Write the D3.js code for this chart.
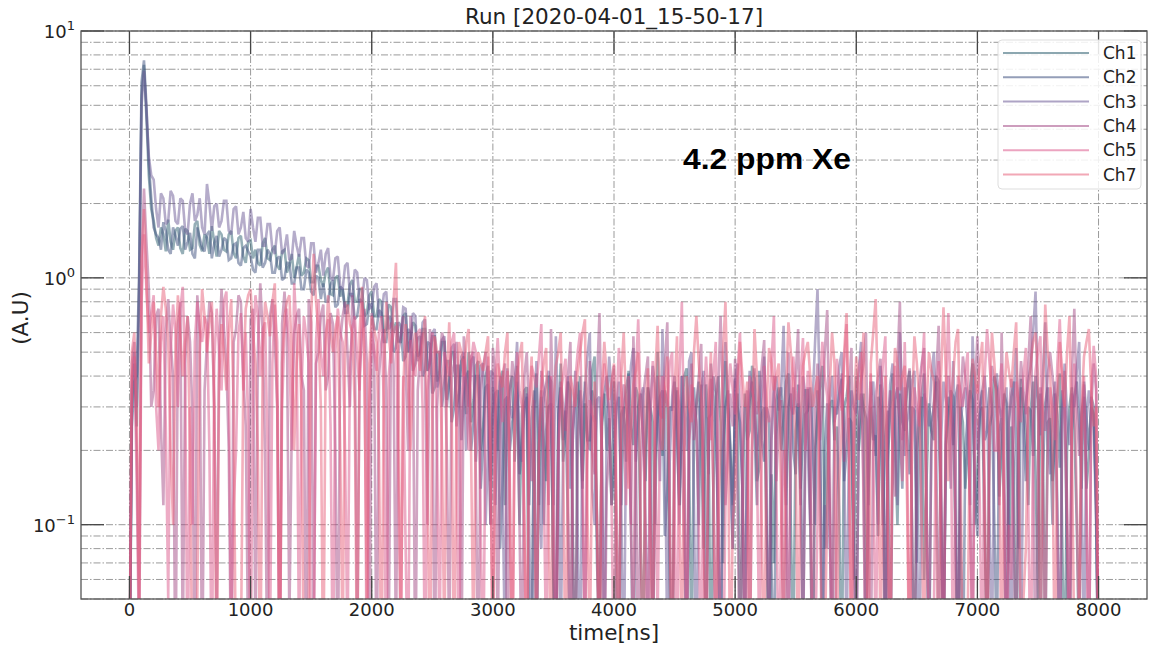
<!DOCTYPE html>
<html>
<head>
<meta charset="utf-8">
<script src="https://cdn.jsdelivr.net/npm/d3@7"></script>
<style>
  body { margin: 0; background: #fff; }
  text { font-family: "DejaVu Sans", sans-serif; fill: #222; }
</style>
</head>
<body>
<div id="plotSect"></div>
<script>
// Chart data (one value every 20 ns, 0..8000 ns) //

let channels = ["Ch1", "Ch2", "Ch3", "Ch4", "Ch5", "Ch7"];
let xTicks = [0, 1000, 2000, 3000, 4000, 5000, 6000, 7000, 8000];
let yMajor = [0.1, 1, 10];
let sampleStep = 20;

let ch1 = [
  0.02, 0.3, 0.45, 0.25, 0.9, 5.5, 7.3, 4.5, 2.6, 1.9,
  1.7, 1.45, 1.35, 1.6, 1.5, 1.28, 1.72, 1.4, 1.3, 1.55,
  1.6, 1.32, 1.25, 1.58, 1.55, 1.3, 1.32, 1.65, 1.7, 1.36,
  1.28, 1.5, 1.45, 1.25, 1.62, 1.4, 1.22, 1.55, 1.5, 1.3,
  1.28, 1.5, 1.55, 1.26, 1.2, 1.45, 1.48, 1.22, 1.15, 1.4,
  1.42, 1.2, 1.3, 1.15, 1.12, 1.38, 1.45, 1.2, 1.18, 1.3,
  1.35, 1.12, 1.08, 1.28, 1.3, 1.05, 1.12, 1.25, 1.0, 1.1,
  1.25, 1.02, 1.05, 1.2, 1.18, 0.96, 0.96, 1.12, 1.12, 0.98,
  0.92, 1.05, 1.1, 0.86, 0.85, 1.0, 1.02, 0.84, 0.9, 0.76,
  0.78, 0.94, 0.98, 0.8, 0.8, 0.9, 0.9, 0.7, 0.72, 0.85,
  0.88, 0.7, 0.7, 0.82, 0.8, 0.6, 0.62, 0.78, 0.76, 0.6,
  0.66, 0.55, 0.55, 0.7, 0.72, 0.5, 0.56, 0.66, 0.64, 0.48,
  0.5, 0.62, 0.62, 0.42, 0.45, 0.58, 0.58, 0.38, 0.42, 0.55,
  0.55, 0.32, 0.38, 0.5, 0.5, 0.3, 0.34, 0.46, 0.48, 0.28,
  0.5, 0.26, 0.32, 0.44, 0.46, 0.2, 0.25, 0.4, 0.44, 0.15,
  0.36, 0.3, 0.2, 0.38, 0.42, 0.12, 0.3, 0.36, 0.4, 0.18,
  0.44, 0.1, 0.28, 0.35, 0.36, 0.02, 0.03, 0.3, 0.41, 0.12,
  0.33, 0.22, 0.15, 0.4, 0.38, 0.05, 0.02, 0.25, 0.45, 0.18,
  0.24, 0.38, 0.35, 0.08, 0.02, 0.3, 0.4, 0.15, 0.31, 0.22,
  0.22, 0.42, 0.48, 0.1, 0.03, 0.26, 0.34, 0.2, 0.27, 0.12,
  0.38, 0.05, 0.02, 0.28, 0.3, 0.18, 0.42, 0.25, 0.21, 0.36,
  0.33, 0.08, 0.03, 0.2, 0.36, 0.3, 0.26, 0.1, 0.5, 0.22,
  0.19, 0.35, 0.31, 0.06, 0.02, 0.24, 0.35, 0.12, 0.28, 0.4,
  0.43, 0.18, 0.03, 0.22, 0.3, 0.38, 0.22, 0.08, 0.37, 0.26,
  0.02, 0.14, 0.33, 0.4, 0.26, 0.07, 0.46, 0.3, 0.2, 0.12,
  0.29, 0.34, 0.03, 0.1, 0.34, 0.22, 0.24, 0.44, 0.39, 0.15,
  0.17, 0.28, 0.3, 0.09, 0.02, 0.16, 0.07, 0.32, 0.36, 0.2,
  0.27, 0.38, 0.41, 0.1, 0.03, 0.24, 0.31, 0.14, 0.23, 0.35,
  0.35, 0.12, 0.02, 0.2, 0.28, 0.36, 0.44, 0.08, 0.19, 0.3,
  0.32, 0.22, 0.25, 0.11, 0.02, 0.3, 0.33, 0.4, 0.21, 0.06,
  0.4, 0.2, 0.26, 0.34, 0.03, 0.14, 0.3, 0.22, 0.23, 0.09,
  0.37, 0.28, 0.02, 0.18, 0.29, 0.41, 0.2, 0.1, 0.34, 0.26,
  0.24, 0.36, 0.42, 0.1, 0.02, 0.2, 0.28, 0.33, 0.06, 0.15,
  0.31, 0.24, 0.22, 0.4, 0.38, 0.12, 0.03, 0.21, 0.27, 0.35,
  0.33, 0.08, 0.02, 0.3, 0.26, 0.14, 0.21, 0.36, 0.45, 0.1,
  0.17, 0.28, 0.3, 0.09, 0.03, 0.25, 0.28, 0.4, 0.36, 0.13,
  0.2, 0.34, 0.31, 0.07, 0.25, 0.18, 0.02, 0.22, 0.39, 0.3,
  0.23, 0.12, 0.29, 0.38, 0.16, 0.05, 0.34, 0.21, 0.03, 0.26,
  0.27, 0.15, 0.22, 0.33, 0.41, 0.09, 0.02, 0.2, 0.3, 0.36,
  0.25, 0.1, 0.03, 0.28, 0.33, 0.14, 0.19, 0.3, 0.28, 0.12,
  0.02
];

let ch2 = [
  0.02, 0.25, 0.38, 0.4, 1.05, 6.2, 7.6, 5.0, 2.9, 2.1,
  1.6, 1.5, 1.45, 1.3, 1.68, 1.55, 1.3, 1.25, 1.6, 1.48,
  1.35, 1.58, 1.62, 1.3, 1.4, 1.52, 1.25, 1.2, 1.6, 1.45,
  1.32, 1.28, 1.5, 1.55, 1.2, 1.38, 1.48, 1.22, 1.3, 1.45,
  1.42, 1.18, 1.2, 1.36, 1.38, 1.15, 1.12, 1.32, 1.35, 1.28,
  1.22, 1.08, 1.05, 1.3, 1.3, 1.1, 1.15, 1.3, 1.25, 1.05,
  1.05, 1.2, 1.22, 0.98, 1.0, 1.15, 1.15, 0.95, 0.95, 1.1,
  1.1, 0.9, 0.9, 1.08, 1.05, 0.88, 0.85, 1.02, 1.0, 0.82,
  0.95, 0.8, 0.8, 0.94, 0.98, 0.76, 0.78, 0.92, 0.9, 0.72,
  0.72, 0.86, 0.86, 0.68, 0.7, 0.82, 0.8, 0.64, 0.65, 0.78,
  0.78, 0.62, 0.62, 0.74, 0.72, 0.55, 0.55, 0.7, 0.68, 0.5,
  0.52, 0.66, 0.64, 0.46, 0.48, 0.62, 0.6, 0.42, 0.45, 0.57,
  0.58, 0.4, 0.42, 0.55, 0.54, 0.34, 0.36, 0.5, 0.5, 0.3,
  0.38, 0.46, 0.46, 0.26, 0.3, 0.44, 0.44, 0.22, 0.33, 0.4,
  0.42, 0.2, 0.26, 0.4, 0.4, 0.14, 0.22, 0.36, 0.37, 0.1,
  0.28, 0.34, 0.35, 0.08, 0.15, 0.32, 0.33, 0.2, 0.26, 0.3,
  0.38, 0.16, 0.22, 0.3, 0.33, 0.12, 0.27, 0.35, 0.02, 0.2,
  0.35, 0.1, 0.24, 0.3, 0.31, 0.06, 0.03, 0.28, 0.36, 0.22,
  0.29, 0.1, 0.02, 0.24, 0.32, 0.38, 0.25, 0.14, 0.38, 0.22,
  0.2, 0.35, 0.3, 0.07, 0.03, 0.25, 0.34, 0.4, 0.26, 0.12,
  0.17, 0.3, 0.33, 0.12, 0.28, 0.36, 0.41, 0.1, 0.02, 0.2,
  0.3, 0.34, 0.23, 0.15, 0.36, 0.28, 0.03, 0.18, 0.27, 0.33,
  0.35, 0.09, 0.14, 0.3, 0.29, 0.38, 0.22, 0.12, 0.4, 0.16,
  0.02, 0.22, 0.31, 0.36, 0.25, 0.1, 0.37, 0.2, 0.03, 0.27,
  0.28, 0.4, 0.34, 0.1, 0.02, 0.2, 0.3, 0.35, 0.21, 0.08,
  0.39, 0.3, 0.26, 0.14, 0.03, 0.25, 0.32, 0.38, 0.24, 0.12,
  0.42, 0.22, 0.18, 0.3, 0.27, 0.07, 0.02, 0.23, 0.33, 0.36,
  0.24, 0.12, 0.3, 0.34, 0.2, 0.16, 0.37, 0.22, 0.03, 0.28,
  0.29, 0.36, 0.22, 0.1, 0.35, 0.26, 0.03, 0.2, 0.31, 0.12,
  0.02, 0.3, 0.28, 0.34, 0.39, 0.15, 0.2, 0.27, 0.26, 0.08,
  0.03, 0.22, 0.34, 0.3, 0.27, 0.12, 0.38, 0.24, 0.19, 0.33,
  0.3, 0.1, 0.23, 0.29, 0.02, 0.18, 0.32, 0.36, 0.25, 0.14,
  0.36, 0.24, 0.16, 0.3, 0.29, 0.07, 0.22, 0.34, 0.41, 0.12,
  0.02, 0.26, 0.3, 0.38, 0.26, 0.1, 0.03, 0.22, 0.33, 0.28,
  0.21, 0.33, 0.37, 0.11, 0.02, 0.2, 0.28, 0.35, 0.32, 0.15,
  0.09, 0.3, 0.35, 0.22, 0.24, 0.36, 0.3, 0.1, 0.03, 0.24,
  0.27, 0.12, 0.02, 0.26, 0.33, 0.38, 0.22, 0.08, 0.36, 0.25,
  0.15, 0.3, 0.29, 0.19, 0.4, 0.32, 0.03, 0.16, 0.31, 0.36,
  0.24, 0.1, 0.34, 0.28, 0.17, 0.35, 0.29, 0.08, 0.02, 0.24,
  0.33, 0.38, 0.26, 0.14, 0.38, 0.27, 0.2, 0.33, 0.3, 0.12,
  0.02
];

let ch3 = [
  0.02, 0.35, 0.5, 0.3, 0.85, 5.0, 6.9, 4.8, 3.1, 2.6,
  2.5, 1.9, 1.6, 2.2, 2.1, 1.65, 1.7, 2.25, 2.15, 1.7,
  1.65, 2.1, 2.05, 1.55, 1.5, 2.0, 2.2, 1.7, 1.8, 2.1,
  1.6, 1.5, 2.4, 2.0, 1.55, 1.95, 2.0, 1.6, 1.7, 2.05,
  2.05, 1.55, 1.5, 1.9, 1.95, 1.5, 1.6, 1.85, 1.45, 1.4,
  1.9, 1.6, 1.4, 1.75, 1.75, 1.35, 1.35, 1.65, 1.65, 1.3,
  1.25, 1.55, 1.6, 1.25, 1.3, 1.5, 1.18, 1.2, 1.55, 1.35,
  1.22, 1.45, 1.45, 1.12, 1.1, 1.38, 1.38, 1.05, 1.15, 1.3,
  1.02, 1.25, 1.32, 1.0, 0.98, 1.2, 1.22, 0.92, 0.9, 1.12,
  1.15, 0.86, 0.84, 1.08, 1.05, 0.8, 0.8, 1.0, 0.98, 0.75,
  0.76, 0.92, 0.95, 0.7, 0.7, 0.86, 0.88, 0.62, 0.64, 0.82,
  0.82, 0.55, 0.58, 0.76, 0.75, 0.5, 0.56, 0.72, 0.7, 0.46,
  0.5, 0.66, 0.68, 0.42, 0.46, 0.6, 0.62, 0.36, 0.4, 0.56,
  0.58, 0.3, 0.38, 0.52, 0.54, 0.25, 0.33, 0.48, 0.5, 0.2,
  0.3, 0.46, 0.48, 0.18, 0.26, 0.44, 0.45, 0.1, 0.2, 0.42,
  0.41, 0.12, 0.3, 0.4, 0.14, 0.03, 0.43, 0.3, 0.27, 0.36,
  0.55, 0.2, 0.18, 0.3, 0.34, 0.1, 0.02, 0.26, 0.46, 0.2,
  0.08, 0.33, 0.37, 0.42, 0.3, 0.12, 0.58, 0.25, 0.03, 0.2,
  0.31, 0.4, 0.14, 0.22, 0.42, 0.1, 0.02, 0.3, 0.35, 0.48,
  0.6, 0.14, 0.1, 0.32, 0.33, 0.2, 0.03, 0.26, 0.48, 0.35,
  0.2, 0.3, 0.38, 0.12, 0.02, 0.25, 0.3, 0.44, 0.52, 0.18,
  0.25, 0.33, 0.36, 0.1, 0.03, 0.3, 0.44, 0.36, 0.28, 0.15,
  0.62, 0.25, 0.03, 0.18, 0.33, 0.4, 0.26, 0.1, 0.4, 0.3,
  0.2, 0.46, 0.5, 0.12, 0.02, 0.28, 0.35, 0.42, 0.29, 0.16,
  0.45, 0.3, 0.22, 0.1, 0.02, 0.34, 0.55, 0.3, 0.16, 0.08,
  0.38, 0.45, 0.27, 0.14, 0.03, 0.24, 0.42, 0.36, 0.3, 0.2,
  0.24, 0.34, 0.48, 0.15, 0.03, 0.22, 0.34, 0.4, 0.29, 0.35,
  0.64, 0.2, 0.02, 0.18, 0.36, 0.3, 0.25, 0.12, 0.4, 0.33,
  0.2, 0.1, 0.32, 0.55, 0.9, 0.3, 0.02, 0.12, 0.08, 0.3,
  0.4, 0.26, 0.3, 0.44, 0.5, 0.2, 0.03, 0.22, 0.35, 0.3,
  0.28, 0.42, 0.55, 0.14, 0.02, 0.26, 0.33, 0.38, 0.23, 0.1,
  0.44, 0.34, 0.03, 0.2, 0.37, 0.45, 0.27, 0.12, 0.6, 0.3,
  0.19, 0.26, 0.3, 0.38, 0.42, 0.1, 0.02, 0.24, 0.34, 0.3,
  0.25, 0.4, 0.5, 0.2, 0.03, 0.22, 0.38, 0.32, 0.28, 0.14,
  0.46, 0.18, 0.02, 0.25, 0.32, 0.36, 0.24, 0.12, 0.58, 0.3,
  0.2, 0.28, 0.35, 0.4, 0.29, 0.1, 0.03, 0.26, 0.41, 0.3,
  0.27, 0.32, 0.36, 0.1, 0.02, 0.34, 0.52, 0.2, 0.03, 0.24,
  0.31, 0.38, 0.44, 0.6, 0.88, 0.3, 0.23, 0.4, 0.66, 0.22,
  0.16, 0.3, 0.38, 0.12, 0.02, 0.3, 0.45, 0.28, 0.21, 0.34,
  0.3, 0.42, 0.55, 0.14, 0.03, 0.26, 0.35, 0.3, 0.26, 0.1,
  0.02
];

let ch4 = [
  0.02, 0.45, 0.55, 0.2, 0.04, 1.2, 2.3, 1.4, 0.9, 0.3,
  0.35, 0.7, 0.75, 0.25, 0.12, 0.6, 0.82, 0.55, 0.4, 0.02,
  0.65, 0.8, 0.03, 0.45, 0.7, 0.55, 0.28, 0.02, 0.85, 0.6,
  0.02, 0.35, 0.55, 0.8, 0.72, 0.3, 0.04, 0.5, 0.9, 0.62,
  0.45, 0.2, 0.02, 0.55, 0.62, 0.85, 0.8, 0.4, 0.25, 0.03,
  0.68, 0.75, 0.03, 0.5, 0.95, 0.6, 0.18, 0.02, 0.7, 0.82,
  0.55, 0.3, 0.02, 0.65, 0.88, 0.6, 0.04, 0.25, 0.6, 0.7,
  0.75, 0.4, 0.35, 0.02, 0.82, 0.66, 0.03, 0.45, 0.5, 0.7,
  0.78, 0.35, 0.4, 0.72, 0.65, 0.2, 0.02, 0.55, 0.7, 0.8,
  0.5, 0.3, 0.85, 0.6, 0.03, 0.4, 0.6, 0.75, 0.45, 0.02,
  0.72, 0.5, 0.02, 0.4, 0.55, 0.62, 0.35, 0.03, 0.66, 0.45,
  0.03, 0.5, 0.58, 0.7, 0.44, 0.2, 0.7, 0.55, 0.02, 0.35,
  0.5, 0.6, 0.38, 0.1, 0.62, 0.45, 0.02, 0.3, 0.48, 0.6,
  0.55, 0.2, 0.03, 0.4, 0.45, 0.55, 0.36, 0.02, 0.58, 0.4,
  0.3, 0.48, 0.5, 0.15, 0.02, 0.35, 0.44, 0.5, 0.35, 0.1,
  0.52, 0.4, 0.03, 0.25, 0.4, 0.45, 0.02, 0.3, 0.46, 0.38,
  0.33, 0.1, 0.02, 0.4, 0.5, 0.26, 0.15, 0.32, 0.03, 0.2,
  0.42, 0.36, 0.3, 0.12, 0.62, 0.25, 0.02, 0.18, 0.38, 0.3,
  0.24, 0.4, 0.55, 0.1, 0.02, 0.22, 0.35, 0.12, 0.03, 0.3,
  0.46, 0.2, 0.16, 0.38, 0.72, 0.2, 0.02, 0.14, 0.2, 0.35,
  0.44, 0.12, 0.03, 0.26, 0.37, 0.3, 0.25, 0.1, 0.58, 0.22,
  0.02, 0.16, 0.33, 0.4, 0.48, 0.14, 0.02, 0.22, 0.4, 0.28,
  0.27, 0.45, 0.66, 0.12, 0.02, 0.2, 0.36, 0.3, 0.22, 0.08,
  0.03, 0.3, 0.45, 0.22, 0.3, 0.4, 0.54, 0.1, 0.02, 0.2,
  0.39, 0.14, 0.02, 0.35, 0.7, 0.3, 0.12, 0.2, 0.34, 0.25,
  0.47, 0.12, 0.02, 0.18, 0.3, 0.35, 0.02, 0.2, 0.43, 0.28,
  0.32, 0.44, 0.56, 0.1, 0.03, 0.26, 0.4, 0.15, 0.25, 0.32,
  0.02, 0.12, 0.5, 0.3, 0.28, 0.4, 0.62, 0.14, 0.03, 0.2,
  0.36, 0.1, 0.02, 0.3, 0.45, 0.22, 0.3, 0.5, 0.74, 0.2,
  0.03, 0.02, 0.12, 0.3, 0.41, 0.18, 0.27, 0.36, 0.52, 0.1,
  0.02, 0.25, 0.38, 0.45, 0.6, 0.12, 0.03, 0.2, 0.33, 0.4,
  0.47, 0.14, 0.02, 0.25, 0.35, 0.2, 0.13, 0.45, 0.8, 0.22,
  0.29, 0.36, 0.43, 0.1, 0.02, 0.22, 0.37, 0.45, 0.52, 0.12,
  0.03, 0.2, 0.31, 0.4, 0.64, 0.2, 0.02, 0.25, 0.4, 0.33,
  0.25, 0.1, 0.02, 0.3, 0.48, 0.4, 0.33, 0.12, 0.03, 0.35,
  0.58, 0.3, 0.29, 0.14, 0.02, 0.2, 0.44, 0.38, 0.35, 0.12,
  0.6, 0.22, 0.03, 0.28, 0.39, 0.1, 0.02, 0.3, 0.46, 0.35,
  0.28, 0.45, 0.7, 0.2, 0.02, 0.18, 0.36, 0.3, 0.24, 0.4,
  0.5, 0.4, 0.32, 0.1, 0.02, 0.25, 0.42, 0.12, 0.03, 0.4,
  0.75, 0.3, 0.19, 0.28, 0.37, 0.14, 0.02, 0.3, 0.45, 0.35,
  0.02
];

let ch5 = [
  0.02, 0.4, 0.48, 0.15, 0.03, 0.8, 1.5, 0.9, 0.6, 0.72,
  0.85, 0.3, 0.2, 0.55, 0.7, 0.25, 0.05, 0.5, 0.78, 0.6,
  0.3, 0.75, 0.92, 0.4, 0.02, 0.3, 0.1, 0.55, 0.8, 0.62,
  0.55, 0.7, 0.65, 0.2, 0.02, 0.45, 0.75, 0.5, 0.35, 0.8,
  0.88, 0.4, 0.03, 0.12, 0.2, 0.6, 0.72, 0.35, 0.6, 0.25,
  0.02, 0.5, 0.85, 0.7, 0.4, 0.62, 0.66, 0.2, 0.03, 0.45,
  0.78, 0.55, 0.02, 0.3, 0.6, 0.75, 0.5, 0.2, 0.95, 0.6,
  0.03, 0.35, 0.7, 0.58, 0.45, 0.02, 0.02, 0.55, 0.82, 0.5,
  0.4, 0.6, 0.68, 0.25, 0.02, 0.5, 0.75, 0.6, 0.55, 0.2,
  0.03, 0.45, 0.62, 0.7, 0.48, 0.35, 0.8, 0.55, 0.02, 0.3,
  0.6, 0.5, 0.42, 0.6, 0.7, 0.3, 0.02, 0.4, 0.52, 0.6,
  0.64, 0.15, 0.03, 0.4, 0.08, 0.02, 0.56, 0.45, 0.4, 0.6,
  0.62, 0.3, 0.02, 0.35, 0.45, 0.6, 0.55, 0.2, 0.03, 0.35,
  0.5, 0.44, 0.4, 0.55, 0.6, 0.25, 0.02, 0.3, 0.47, 0.35,
  0.2, 0.45, 0.55, 0.5, 0.38, 0.1, 0.02, 0.3, 0.48, 0.2,
  0.03, 0.4, 0.57, 0.35, 0.26, 0.35, 0.42, 0.15, 0.02, 0.25,
  0.5, 0.35, 0.3, 0.1, 0.02, 0.3, 0.44, 0.4, 0.36, 0.48,
  0.65, 0.15, 0.03, 0.25, 0.4, 0.12, 0.02, 0.2, 0.34, 0.4,
  0.47, 0.15, 0.02, 0.25, 0.38, 0.5, 0.6, 0.2, 0.03, 0.18,
  0.32, 0.28, 0.26, 0.1, 0.02, 0.3, 0.45, 0.35, 0.3, 0.12,
  0.02, 0.3, 0.52, 0.35, 0.28, 0.12, 0.4, 0.1, 0.03, 0.4,
  0.68, 0.3, 0.23, 0.1, 0.02, 0.28, 0.46, 0.2, 0.04, 0.25,
  0.4, 0.35, 0.3, 0.45, 0.5, 0.12, 0.02, 0.4, 0.8, 0.2,
  0.03, 0.2, 0.37, 0.3, 0.26, 0.1, 0.02, 0.3, 0.48, 0.3,
  0.22, 0.4, 0.55, 0.14, 0.03, 0.02, 0.12, 0.3, 0.45, 0.35,
  0.28, 0.42, 0.6, 0.25, 0.02, 0.1, 0.4, 0.35, 0.31, 0.18,
  0.03, 0.2, 0.44, 0.3, 0.26, 0.45, 0.7, 0.15, 0.02, 0.1,
  0.2, 0.12, 0.03, 0.3, 0.48, 0.35, 0.3, 0.4, 0.57, 0.2,
  0.42, 0.3, 0.02, 0.03, 0.1, 0.35, 0.55, 0.4, 0.33, 0.12,
  0.02, 0.25, 0.47, 0.35, 0.29, 0.45, 0.65, 0.2, 0.03, 0.2,
  0.35, 0.42, 0.5, 0.12, 0.02, 0.25, 0.41, 0.2, 0.03, 0.15,
  0.3, 0.45, 0.58, 0.1, 0.02, 0.25, 0.44, 0.35, 0.27, 0.15,
  0.55, 0.2, 0.02, 0.2, 0.36, 0.3, 0.25, 0.4, 0.6, 0.12,
  0.03, 0.02, 0.04, 0.3, 0.46, 0.1, 0.02, 0.35, 0.72, 0.3,
  0.02, 0.2, 0.4, 0.35, 0.3, 0.42, 0.5, 0.1, 0.03, 0.25,
  0.37, 0.12, 0.02, 0.4, 0.62, 0.45, 0.33, 0.2, 0.2, 0.35,
  0.45, 0.12, 0.02, 0.1, 0.06, 0.3, 0.38, 0.3, 0.26, 0.4,
  0.52, 0.12, 0.02, 0.25, 0.42, 0.5, 0.58, 0.15, 0.03, 0.2,
  0.36, 0.3, 0.22, 0.45, 0.68, 0.35, 0.3, 0.1, 0.02, 0.25,
  0.45, 0.12, 0.03, 0.2, 0.4, 0.12, 0.02, 0.35, 0.53, 0.4,
  0.02
];

let ch7 = [
  0.02, 0.5, 0.6, 0.3, 0.05, 1.2, 1.9, 1.0, 0.45, 0.6,
  0.8, 0.5, 0.3, 0.7, 0.92, 0.75, 0.55, 0.2, 0.1, 0.5,
  0.85, 0.6, 0.4, 0.55, 0.7, 0.2, 0.02, 0.03, 0.05, 0.5,
  0.9, 0.7, 0.5, 0.65, 0.8, 0.3, 0.02, 0.4, 0.65, 0.5,
  0.35, 0.6, 0.82, 0.3, 0.02, 0.02, 0.03, 0.4, 0.75, 0.85,
  0.9, 0.6, 0.45, 0.2, 0.02, 0.5, 0.8, 0.7, 0.58, 0.8,
  0.95, 0.3, 0.02, 0.45, 0.7, 0.8, 0.85, 0.5, 0.2, 0.45,
  0.65, 0.3, 0.02, 0.03, 0.04, 0.7, 1.25, 0.8, 0.6, 0.3,
  0.02, 0.5, 0.85, 0.6, 0.5, 0.62, 0.7, 0.2, 0.03, 0.5,
  0.78, 0.65, 0.6, 0.3, 0.02, 0.6, 0.92, 0.4, 0.05, 0.45,
  0.7, 0.62, 0.55, 0.2, 0.02, 0.4, 0.8, 0.6, 0.45, 0.8,
  1.15, 0.4, 0.03, 0.35, 0.65, 0.4, 0.2, 0.4, 0.6, 0.5,
  0.42, 0.55, 0.7, 0.2, 0.02, 0.3, 0.58, 0.5, 0.5, 0.2,
  0.03, 0.4, 0.66, 0.3, 0.02, 0.3, 0.55, 0.5, 0.4, 0.55,
  0.62, 0.2, 0.03, 0.3, 0.5, 0.45, 0.42, 0.5, 0.58, 0.2,
  0.02, 0.25, 0.45, 0.4, 0.36, 0.5, 0.6, 0.12, 0.02, 0.3,
  0.4, 0.48, 0.55, 0.1, 0.02, 0.3, 0.48, 0.15, 0.03, 0.2,
  0.36, 0.45, 0.52, 0.12, 0.02, 0.3, 0.44, 0.5, 0.6, 0.2,
  0.02, 0.2, 0.4, 0.35, 0.3, 0.42, 0.5, 0.6, 0.68, 0.12,
  0.03, 0.2, 0.38, 0.1, 0.02, 0.35, 0.55, 0.4, 0.32, 0.38,
  0.45, 0.1, 0.02, 0.4, 0.6, 0.3, 0.14, 0.25, 0.37, 0.42,
  0.5, 0.1, 0.02, 0.3, 0.43, 0.1, 0.03, 0.4, 0.64, 0.3,
  0.2, 0.35, 0.48, 0.1, 0.02, 0.35, 0.58, 0.12, 0.03, 0.2,
  0.4, 0.3, 0.26, 0.5, 0.7, 0.45, 0.32, 0.1, 0.02, 0.3,
  0.5, 0.14, 0.03, 0.1, 0.22, 0.5, 0.8, 0.3, 0.02, 0.1,
  0.14, 0.35, 0.55, 0.4, 0.3, 0.38, 0.02, 0.25, 0.62, 0.4,
  0.28, 0.1, 0.02, 0.3, 0.52, 0.45, 0.35, 0.4, 0.45, 0.12,
  0.03, 0.35, 0.66, 0.5, 0.38, 0.2, 0.02, 0.25, 0.44, 0.5,
  0.55, 0.4, 0.3, 0.35, 0.4, 0.12, 0.02, 0.03, 0.12, 0.35,
  0.6, 0.45, 0.03, 0.15, 0.25, 0.5, 0.72, 0.2, 0.02, 0.3,
  0.48, 0.32, 0.4, 0.6, 0.16, 0.02, 0.45, 0.6, 0.82, 0.3,
  0.03, 0.2, 0.4, 0.12, 0.02, 0.3, 0.52, 0.45, 0.35, 0.4,
  0.44, 0.12, 0.02, 0.3, 0.58, 0.45, 0.32, 0.1, 0.03, 0.3,
  0.5, 0.42, 0.38, 0.12, 0.02, 0.4, 0.76, 0.4, 0.15, 0.3,
  0.4, 0.55, 0.62, 0.2, 0.02, 0.03, 0.04, 0.3, 0.47, 0.4,
  0.34, 0.45, 0.55, 0.12, 0.02, 0.3, 0.6, 0.45, 0.3, 0.2,
  0.02, 0.3, 0.5, 0.42, 0.36, 0.5, 0.66, 0.2, 0.03, 0.05,
  0.08, 0.3, 0.45, 0.55, 0.6, 0.4, 0.02, 0.3, 0.78, 0.5,
  0.42, 0.2, 0.02, 0.3, 0.55, 0.4, 0.3, 0.5, 0.7, 0.2,
  0.03, 0.02, 0.05, 0.3, 0.48, 0.55, 0.62, 0.35, 0.25, 0.3,
  0.02
];

let seriesValues = [ch1, ch2, ch3, ch4, ch5, ch7];

// Initial chart setup //

let SVGwidth = 1149,
    SVGheight = 645,
    margin = {top: 31, right: 2, bottom: 46, left: 81},
    width = SVGwidth - margin.left - margin.right,
    height = SVGheight - margin.top - margin.bottom;

let lineColors = ["#2e5f70", "#3d4f7d", "#6b5a96", "#a44c86", "#dc5a8c", "#e8607a"];

let svgRoot = d3.select("#plotSect").append("svg")
    .attr("width", SVGwidth)
    .attr("height", SVGheight);

let svg = svgRoot.append("g")
    .attr("transform", "translate(" + margin.left + "," + margin.top + ")");

let xScale = d3.scaleLinear().domain([-400, 8400]).range([0, width]);
let yScale = d3.scaleLog().domain([0.05, 10]).range([height, 0]);

svgRoot.append("defs").append("clipPath")
    .attr("id", "plotClip")
    .append("rect")
    .attr("width", width)
    .attr("height", height);

// grid, dash-dot like matplotlib "-." //
let yGrid = [];
[0.01, 0.1, 1].forEach(function(dec) {
    for (let k = 1; k < 10; k++) {
        let v = +(dec * k).toPrecision(3);
        if (v >= 0.05 && v <= 10) yGrid.push(v);
    }
});
yGrid.push(10);

svg.selectAll(".yGrid")
    .data(yGrid)
    .enter().append("line")
    .attr("class", "yGrid")
    .attr("x1", 0).attr("x2", width)
    .attr("y1", function(d) { return yScale(d); })
    .attr("y2", function(d) { return yScale(d); })
    .style("stroke", "#9a9a9a")
    .style("stroke-width", 1)
    .style("stroke-dasharray", "7,2,1.5,2");

svg.selectAll(".xGrid")
    .data(xTicks)
    .enter().append("line")
    .attr("class", "xGrid")
    .attr("y1", 0).attr("y2", height)
    .attr("x1", function(d) { return xScale(d); })
    .attr("x2", function(d) { return xScale(d); })
    .style("stroke", "#9a9a9a")
    .style("stroke-width", 1)
    .style("stroke-dasharray", "7,2,1.5,2");

// waveforms //
let line = d3.line()
    .x(function(d, i) { return xScale(i * sampleStep); })
    .y(function(d) { return yScale(Math.max(d, 0.001)); });

let plotArea = svg.append("g").attr("clip-path", "url(#plotClip)");

plotArea.selectAll(".trace")
    .data(seriesValues)
    .enter().append("path")
    .attr("class", "trace")
    .attr("d", line)
    .style("fill", "none")
    .style("stroke", function(d, i) { return lineColors[i]; })
    .style("stroke-opacity", 0.5)
    .style("stroke-width", 2.6)
    .style("stroke-linejoin", "miter")
    .style("stroke-miterlimit", 2);

// ticks pointing inward, on all four sides //
let tickLen = 23;
let tickStyle = function(sel) {
    sel.style("stroke", "#444").style("stroke-width", 1.3);
};

xTicks.forEach(function(t) {
    svg.append("line").attr("x1", xScale(t)).attr("x2", xScale(t))
        .attr("y1", height).attr("y2", height - tickLen).call(tickStyle);
    svg.append("line").attr("x1", xScale(t)).attr("x2", xScale(t))
        .attr("y1", 0).attr("y2", tickLen).call(tickStyle);
    svg.append("text")
        .attr("x", xScale(t))
        .attr("y", height + 17)
        .style("text-anchor", "middle")
        .style("font-size", "18px")
        .text(t);
});

yMajor.forEach(function(v) {
    svg.append("line").attr("x1", 0).attr("x2", tickLen)
        .attr("y1", yScale(v)).attr("y2", yScale(v)).call(tickStyle);
    svg.append("line").attr("x1", width).attr("x2", width - tickLen)
        .attr("y1", yScale(v)).attr("y2", yScale(v)).call(tickStyle);
    let p = Math.round(Math.log10(v));
    let lbl = svg.append("text")
        .attr("x", -6)
        .attr("y", yScale(v) + 7)
        .style("text-anchor", "end")
        .style("font-size", "18px");
    lbl.append("tspan").text("10");
    lbl.append("tspan")
        .attr("dy", -8)
        .style("font-size", "13px")
        .text(p < 0 ? "\u2212" + Math.abs(p) : p);
});

svg.append("rect")
    .attr("width", width)
    .attr("height", height)
    .style("fill", "none")
    .style("stroke", "#555")
    .style("stroke-width", 1.3);

// labels //
svg.append("text")
    .attr("x", width / 2)
    .attr("y", -7)
    .style("text-anchor", "middle")
    .style("font-size", "21.5px")
    .text("Run [2020-04-01_15-50-17]");

svg.append("text")
    .attr("x", width / 2)
    .attr("y", height + 41)
    .style("text-anchor", "middle")
    .style("font-size", "21.5px")
    .text("time[ns]");

svg.append("text")
    .attr("transform", "rotate(-90)")
    .attr("x", -287)
    .attr("y", -53)
    .style("text-anchor", "middle")
    .style("font-size", "21.5px")
    .text("(A.U)");

svg.append("text")
    .attr("x", 602)
    .attr("y", 138)
    .attr("textLength", 168)
    .attr("lengthAdjust", "spacingAndGlyphs")
    .style("font-family", "'Liberation Sans', Arial, sans-serif")
    .style("font-weight", "bold")
    .style("font-size", "30px")
    .style("fill", "#000")
    .text("4.2 ppm Xe");

// legend //
let legendBox = svg.append("g")
    .attr("transform", "translate(" + (width - 149) + ",9)");

legendBox.append("rect")
    .attr("width", 143)
    .attr("height", 149)
    .attr("rx", 4)
    .style("fill", "#fff")
    .style("fill-opacity", 0.85)
    .style("stroke", "#ddd");

let legend = legendBox.selectAll(".legend")
    .data(channels)
    .enter().append("g")
    .attr("class", "legend")
    .attr("transform", function(d, i) { return "translate(0," + (13 + i * 24.3) + ")"; });

legend.append("line")
    .attr("x1", 5).attr("x2", 91)
    .style("stroke", function(d, i) { return lineColors[i]; })
    .style("stroke-opacity", 0.55)
    .style("stroke-width", 2);

legend.append("text")
    .attr("x", 105)
    .attr("y", 6)
    .style("font-size", "17px")
    .text(function(d) { return d; });
</script>
</body>
</html>
